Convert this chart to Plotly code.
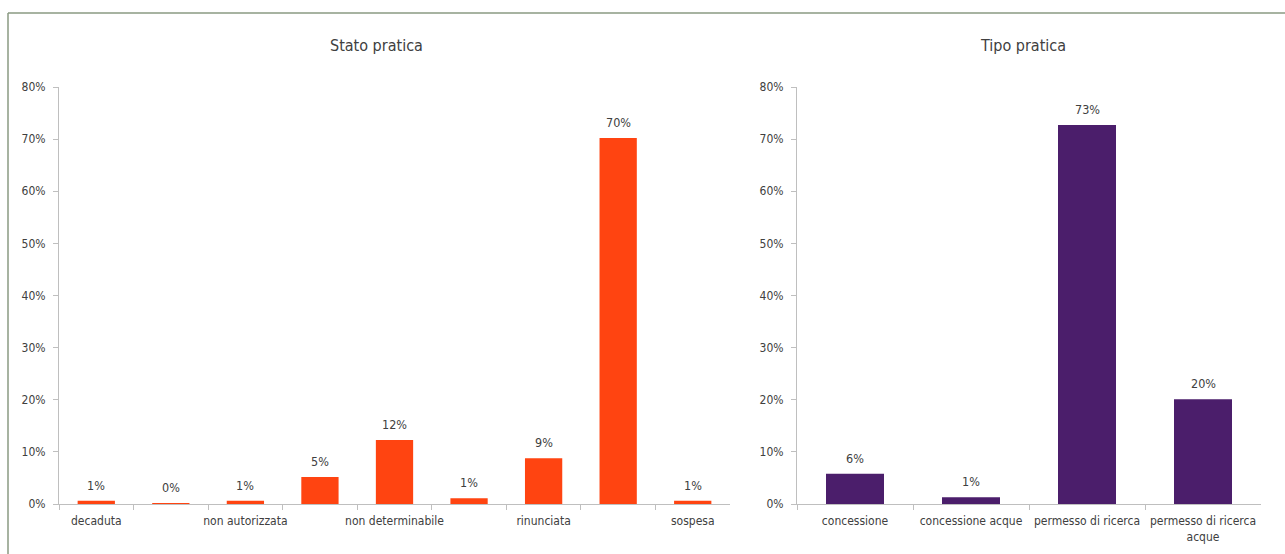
import plotly.graph_objects as go

# ---- data ----
stato_categories = ["decaduta", "in istruttoria", "non autorizzata", "non conclusa",
                    "non determinabile", "revocata", "rinunciata", "scaduta", "sospesa"]
stato_values = [0.006, 0.001, 0.006, 0.052, 0.123, 0.011, 0.088, 0.702, 0.006]
stato_ticklabels = ["decaduta", "", "non autorizzata", "", "non determinabile", "",
                    "rinunciata", "", "sospesa"]

tipo_categories = ["concessione", "concessione acque", "permesso di ricerca",
                   "permesso di ricerca acque"]
tipo_values = [0.058, 0.013, 0.727, 0.201]
tipo_ticklabels = ["concessione", "concessione acque", "permesso di ricerca",
                   "permesso di ricerca<br>acque"]

W, H = 1285, 554
FONT = "DejaVu Sans Condensed, Liberation Sans Narrow, sans-serif"
TXT = "#404040"

fig = go.Figure()
fig.add_trace(go.Bar(x=stato_categories, y=stato_values, marker_color="#FF4411",
                     marker_line_width=0, width=0.5,
                     xaxis="x", yaxis="y", showlegend=False, hoverinfo="x+y"))
fig.add_trace(go.Bar(x=tipo_categories, y=tipo_values, marker_color="#4B1E6B",
                     marker_line_width=0, width=0.5,
                     xaxis="x2", yaxis="y2", showlegend=False, hoverinfo="x+y"))

# value labels above bars, positioned through the axes from the data
value_labels = []
for cats, vals, xr, yr in [(stato_categories, stato_values, "x", "y"),
                           (tipo_categories, tipo_values, "x2", "y2")]:
    for c, v in zip(cats, vals):
        value_labels.append(dict(x=c, y=v, xref=xr, yref=yr, text=f"{v:.0%}",
                                 showarrow=False, yanchor="bottom", yshift=6,
                                 font=dict(size=12.5, color=TXT, family=FONT)))

ydom = [(H - 504) / H, (H - 87) / H]
axis_common = dict(showgrid=False, showline=True, linecolor="#BFBFBF", linewidth=1,
                   ticks="outside", tickcolor="#BFBFBF", ticklen=5, automargin=False,
                   tickfont=dict(size=12, color=TXT, family=FONT), zeroline=False)

fig.update_layout(
    width=W, height=H,
    margin=dict(l=0, r=0, t=0, b=0),
    paper_bgcolor="white", plot_bgcolor="white",
    font=dict(family=FONT, color=TXT),
    xaxis=dict(domain=[59 / W, 730 / W], type="category", tickson="boundaries",
               tickangle=0, tickvals=stato_categories, ticktext=stato_ticklabels,
               ticklabelstandoff=6, **axis_common),
    yaxis=dict(domain=ydom, range=[0, 0.8], dtick=0.1, tickformat=".0%", anchor="x",
               ticklabelstandoff=5, **axis_common),
    xaxis2=dict(domain=[797 / W, 1261 / W], type="category", tickson="boundaries",
                tickangle=0, tickvals=tipo_categories, ticktext=tipo_ticklabels,
                anchor="y2", ticklabelstandoff=6, **axis_common),
    yaxis2=dict(domain=ydom, range=[0, 0.8], dtick=0.1, tickformat=".0%", anchor="x2",
                ticklabelstandoff=5, **axis_common),
    annotations=[
        dict(text="Stato pratica", x=376 / W, y=1 - 45 / H, xref="paper", yref="paper",
             xanchor="center", yanchor="middle", showarrow=False,
             font=dict(size=16, color=TXT, family=FONT)),
        dict(text="Tipo pratica", x=1023 / W, y=1 - 45 / H, xref="paper", yref="paper",
             xanchor="center", yanchor="middle", showarrow=False,
             font=dict(size=16, color=TXT, family=FONT)),
    ] + value_labels,
    shapes=[
        dict(type="line", xref="paper", yref="paper", x0=8 / W, x1=8 / W,
             y0=0, y1=1 - 13 / H, line=dict(color="#8A9A82", width=1.5)),
        dict(type="line", xref="paper", yref="paper", x0=8 / W, x1=1,
             y0=1 - 13 / H, y1=1 - 13 / H, line=dict(color="#8A9A82", width=1.5)),
    ],
)

fig.write_html("out.html", config={"displayModeBar": False},
               post_script="document.body.style.margin='0';document.body.style.overflow='hidden';")
